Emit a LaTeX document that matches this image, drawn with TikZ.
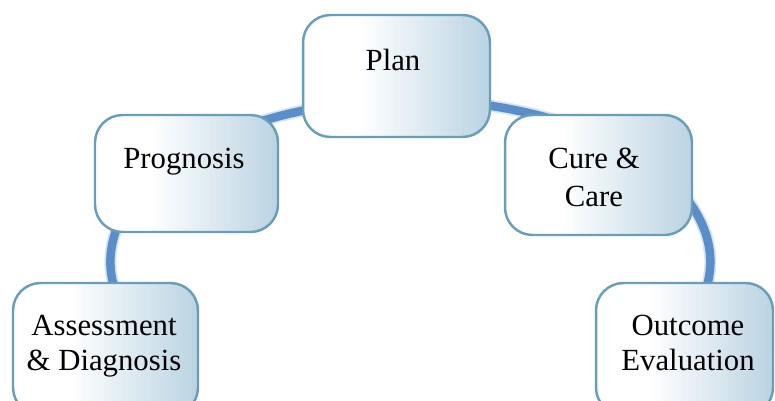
\documentclass[tikz,border=0pt]{standalone}
\usepackage{fontspec}
\setmainfont{Liberation Serif}
\definecolor{arcblue}{RGB}{90,142,200}
\definecolor{boxedge}{RGB}{105,158,186}
\definecolor{boxright}{RGB}{186,211,226}
\pgfdeclarehorizontalshading{boxshade}{100bp}{color(0bp)=(white); color(25bp)=(white); color(40bp)=(white); color(75bp)=(boxright); color(100bp)=(boxright)}
\begin{document}
\begin{tikzpicture}[x=0.02cm,y=0.02cm,
  stepbox/.style={rectangle, rounded corners=0.55cm, draw=boxedge, line width=1.4pt,
    shading=boxshade, inner sep=0pt},
  lbl/.style={anchor=base, inner sep=0pt, font=\fontsize{17.5}{20}\selectfont},
  arcglow/.style={draw=arcblue!25, line width=0.24cm},
  arcmain/.style={draw=arcblue, line width=0.17cm}]
\useasboundingbox (0,0) rectangle (775,400);
\clip (0,0) rectangle (775,400);
% arc behind the boxes
\coordinate (arcstart) at (115,110);
\path[arcglow] (arcstart) arc[start angle=190, end angle=-10, x radius=6cm, y radius=3.24cm];
\path[arcmain] (arcstart) arc[start angle=190, end angle=-10, x radius=6cm, y radius=3.24cm];
% boxes
\node[stepbox, minimum width=3.74cm, minimum height=2.44cm] (plan) at (396.5,324) {};
\node[stepbox, minimum width=3.66cm, minimum height=2.34cm] (prog) at (186.5,226.5) {};
\node[stepbox, minimum width=3.74cm, minimum height=2.40cm] (cure) at (598.5,225) {};
\node[stepbox, minimum width=3.70cm, minimum height=2.64cm] (assess) at (105.5,51) {};
\node[stepbox, minimum width=3.54cm, minimum height=2.64cm] (outc) at (684.5,51) {};
% labels
\node[lbl] (tplan) at (393,330) {Plan};
\node[lbl] (tprog) at (184,232) {Prognosis};
\node[lbl] (tcure1) at (594,232) {Cure \&};
\node[lbl] (tcure2) at (594,194) {Care};
\node[lbl] (tass1) at (104,65) {Assessment};
\node[lbl] (tass2) at (104,30) {\& Diagnosis};
\node[lbl] (tout1) at (688,65) {Outcome};
\node[lbl] (tout2) at (688,30) {Evaluation};
\end{tikzpicture}
\end{document}
